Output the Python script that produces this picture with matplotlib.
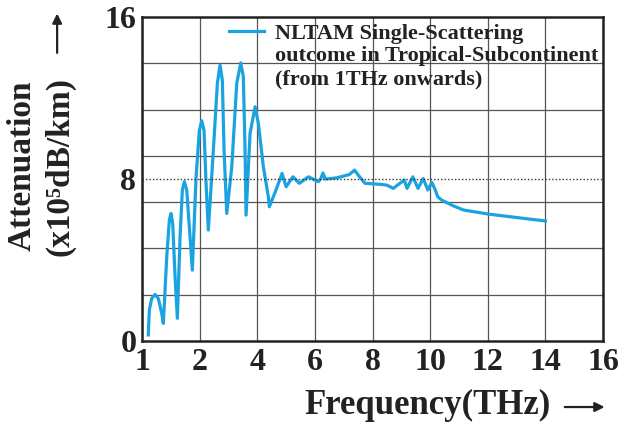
import numpy as np
import matplotlib
matplotlib.use("Agg")
import matplotlib.pyplot as plt

# values (frequency in THz, attenuation in 1e5 dB/km)
freq = [1.109, 1.127, 1.168, 1.226, 1.283, 1.342, 1.370, 1.429, 1.474, 1.503, 1.533,
        1.573, 1.613, 1.660, 1.700, 1.734, 1.776, 1.833, 1.873, 1.938, 1.995, 2.073,
        2.153, 2.222, 2.302, 2.476, 2.615, 2.708, 2.788, 2.847, 2.941, 3.115, 3.288,
        3.427, 3.517, 3.576, 3.611, 3.750, 3.924, 4.038, 4.212, 4.385, 4.42, 4.65,
        4.86, 5.00, 5.24, 5.46, 5.78, 6.12, 6.20, 6.28, 6.36, 6.76, 7.19, 7.38, 7.53,
        7.74, 8.26, 8.50, 8.72, 9.10, 9.20, 9.40, 9.58, 9.76, 9.92, 10.06, 10.18,
        10.26, 10.40, 10.80, 11.16, 12.02, 13.0, 14.0]
atten = [0.3, 1.53, 2.1, 2.3, 2.1, 1.37, 0.87, 4.16, 5.97, 6.3, 5.8,
         3.2, 1.12, 5.15, 7.46, 7.87, 7.46, 5.15, 3.5, 8.1, 10.4, 10.88,
         10.4, 7.8, 5.48, 9.43, 12.73, 13.63, 12.89, 9.43, 6.3, 8.6, 12.73,
         13.74, 13.05, 9.43, 6.22, 10.26, 11.57, 10.75, 8.6, 7.13, 6.63, 7.46,
         8.28, 7.62, 8.11, 7.79, 8.11, 7.87, 8.0, 8.3, 8.0, 8.06, 8.22, 8.44, 8.15,
         7.79, 7.74, 7.70, 7.54, 7.95, 7.54, 8.11, 7.54, 8.03, 7.46, 7.83, 7.46,
         7.13, 6.96, 6.68, 6.47, 6.27, 6.10, 5.93]

xticks = [1, 2, 4, 6, 8, 10, 12, 14, 16]
yticks = [0, 8, 16]
label_lines = ["NLTAM Single-Scattering", "outcome in Tropical-Subcontinent",
               "(from 1THz onwards)"]

ink = "#222222"
plt.rcParams["font.family"] = ["Liberation Serif", "DejaVu Serif"]
plt.rcParams["font.weight"] = "bold"


# the x axis squeezes 1-2 THz into the same width as every 2 THz step after it
def fwd(x):
    x = np.asarray(x, dtype=float)
    return np.where(x < 2, x - 1, x / 2)


def inv(p):
    p = np.asarray(p, dtype=float)
    return np.where(p < 1, p + 1, p * 2)


fig = plt.figure(figsize=(6.21, 4.28), dpi=100)
ax = fig.add_axes([0.2287, 0.2033, 0.971 - 0.2287, 0.960 - 0.2033])

ax.plot(freq, atten, color="#1aa3e0", lw=2.3, label=label_lines[0],
        solid_joinstyle="round")

ax.set_xscale("function", functions=(fwd, inv))
ax.set_xlim(1, 16)
ax.set_ylim(0, 16)
ax.set_xticks(xticks)
ax.set_xticklabels([str(t) for t in xticks])
ax.set_yticks(yticks)
ax.set_yticks([16 * k / 7 for k in range(1, 7)], minor=True)
ax.grid(axis="x", which="major", color="#555555", lw=0.9)
ax.grid(axis="y", which="minor", color="#555555", lw=0.9)
ax.axhline(8, color="#333333", lw=1.0, ls=(0, (1, 1.5)))
ax.tick_params(which="both", length=0, labelsize=23, colors=ink)
ax.tick_params(axis="x", pad=5)
ax.tick_params(axis="y", pad=4)
for s in ax.spines.values():
    s.set_linewidth(1.8)
    s.set_color(ink)

leg = ax.legend(loc="upper left", bbox_to_anchor=(0.164, 1.014), frameon=False,
                fontsize=16, handlelength=1.6, handletextpad=0.5,
                borderaxespad=0.1)
first = leg.get_texts()[0]
first.set_color(ink)

fig.text(0.035, 0.612, "Attenuation", rotation=90, fontsize=24,
         ha="center", va="center", color=ink)
fig.text(0.097, 0.610, "(x10\u2075dB/km)", rotation=90, fontsize=24,
         ha="center", va="center", color=ink)
arrow = dict(arrowstyle="-|>", color=ink, lw=1.6, mutation_scale=14)
ax.annotate("", xy=(0.092, 0.975), xytext=(0.092, 0.87), xycoords="figure fraction",
            arrowprops=arrow, annotation_clip=False)
fig.text(0.688, 0.053, "Frequency(THz)", fontsize=25,
         ha="center", va="center", color=ink)
ax.annotate("", xy=(0.978, 0.049), xytext=(0.905, 0.049), xycoords="figure fraction",
            arrowprops=arrow, annotation_clip=False)

# the other two label lines hang under the first legend line
fig.canvas.draw()
bb = first.get_window_extent()
W, H = fig.bbox.width, fig.bbox.height
fig.text(bb.x0 / W, (bb.y0 - 2) / H, "\n".join(label_lines[1:]), ha="left", va="top",
         fontsize=16, linespacing=1.2, color=ink)

fig.savefig("out.png", dpi=100)
